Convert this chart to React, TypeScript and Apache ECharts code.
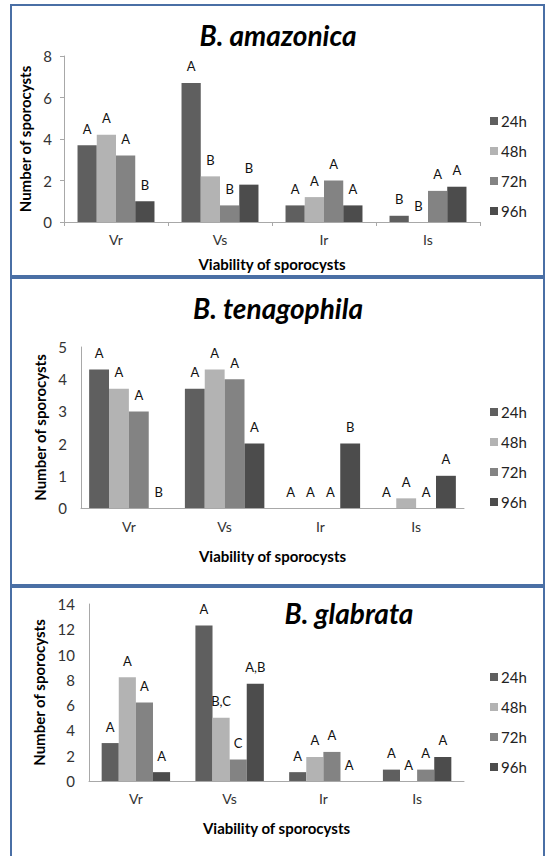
import React, { useEffect, useRef } from "react";
import * as echarts from "echarts";

const categories = ["Vr", "Vs", "Ir", "Is"];
const hours = ["24h", "48h", "72h", "96h"];
const colors = ["#5f5f5f", "#b3b3b3", "#838383", "#4c4c4c"];

const titles = ["B. amazonica", "B. tenagophila", "B. glabrata"];
const yAxisName = "Number of sporocysts";
const xAxisName = "Viability of sporocysts";

// B. amazonica
const amazonica24 = [3.7, 6.7, 0.8, 0.3];
const amazonica48 = [4.2, 2.2, 1.2, 0];
const amazonica72 = [3.2, 0.8, 2.0, 1.5];
const amazonica96 = [1.0, 1.8, 0.8, 1.7];
const amazonicaLetters24 = ["A", "A", "A", "B"];
const amazonicaLetters48 = ["A", "B", "A", "B"];
const amazonicaLetters72 = ["A", "B", "A", "A"];
const amazonicaLetters96 = ["B", "B", "A", "A"];

// B. tenagophila
const tenagophila24 = [4.3, 3.7, 0, 0];
const tenagophila48 = [3.7, 4.3, 0, 0.3];
const tenagophila72 = [3.0, 4.0, 0, 0];
const tenagophila96 = [0, 2.0, 2.0, 1.0];
const tenagophilaLetters24 = ["A", "A", "A", "A"];
const tenagophilaLetters48 = ["A", "A", "A", "A"];
const tenagophilaLetters72 = ["A", "A", "A", "A"];
const tenagophilaLetters96 = ["B", "A", "B", "A"];

// B. glabrata
const glabrata24 = [3.0, 12.3, 0.7, 0.9];
const glabrata48 = [8.2, 5.0, 1.9, 0];
const glabrata72 = [6.2, 1.7, 2.3, 0.9];
const glabrata96 = [0.7, 7.7, 0, 1.9];
const glabrataLetters24 = ["A", "A", "A", "A"];
const glabrataLetters48 = ["A", "B,C", "A", "A"];
const glabrataLetters72 = ["A", "C", "A", "A"];
const glabrataLetters96 = ["A", "A,B", "A", "A"];

const yMax = [8, 5, 14];
const yInterval = [2, 1, 2];

const FONT = "Lato, 'Open Sans', sans-serif";

export default function App() {
  const ref = useRef<HTMLDivElement>(null);

  useEffect(() => {
    if (!ref.current) return;
    const chart = echarts.init(ref.current, null, { renderer: "svg" });

    const panelValues = [
      [amazonica24, amazonica48, amazonica72, amazonica96],
      [tenagophila24, tenagophila48, tenagophila72, tenagophila96],
      [glabrata24, glabrata48, glabrata72, glabrata96],
    ];
    const panelLetters = [
      [amazonicaLetters24, amazonicaLetters48, amazonicaLetters72, amazonicaLetters96],
      [tenagophilaLetters24, tenagophilaLetters48, tenagophilaLetters72, tenagophilaLetters96],
      [glabrataLetters24, glabrataLetters48, glabrataLetters72, glabrataLetters96],
    ];

    const grids = [
      { left: 64, right: 70, top: 56, height: 166 },
      { left: 81, right: 86, top: 347, height: 161 },
      { left: 89, right: 86, top: 604, height: 177 },
    ];
    const gaps = ["26%", "17%", "27%"];
    const yNameGap = [30, 32, 41];
    const xNameGap = [34, 40, 39];
    const xLabelMargin = [10, 11, 10];
    const yLabelMargin = [12, 14, 14];
    const legendTops = [113, 404, 669];
    const titlePos = [
      [278, 35],
      [278, 308],
      [349, 613],
    ];

    const axisLineColor = "#a8a8a8";

    const xAxes = grids.map((_, i) => ({
      type: "category",
      gridIndex: i,
      data: categories,
      name: xAxisName,
      nameLocation: "middle",
      nameGap: xNameGap[i],
      nameTextStyle: { fontFamily: FONT, fontWeight: "bold", fontSize: 15, color: "#000" },
      axisLine: { show: true, lineStyle: { color: axisLineColor, width: 1 } },
      axisTick: { show: i === 0, length: 4, lineStyle: { color: axisLineColor } },
      axisLabel: { fontFamily: FONT, fontSize: 14, color: "#333", margin: xLabelMargin[i] },
      splitLine: { show: false },
    }));

    const yAxes = grids.map((_, i) => ({
      type: "value",
      gridIndex: i,
      min: 0,
      max: yMax[i],
      interval: yInterval[i],
      name: yAxisName,
      nameLocation: "middle",
      nameGap: yNameGap[i],
      nameTextStyle: { fontFamily: FONT, fontWeight: "bold", fontSize: 15, color: "#000" },
      axisLine: { show: true, lineStyle: { color: axisLineColor, width: 1 } },
      axisTick: { show: i === 0, length: 4, lineStyle: { color: axisLineColor } },
      axisLabel: { fontFamily: FONT, fontSize: 15, color: "#333", margin: yLabelMargin[i] },
      splitLine: { show: false },
    }));

    const series: any[] = [];
    panelValues.forEach((vals, p) => {
      vals.forEach((arr, h) => {
        const letters = panelLetters[p][h];
        series.push({
          type: "bar",
          name: hours[h],
          xAxisIndex: p,
          yAxisIndex: p,
          data: arr,
          barGap: "0%",
          barCategoryGap: gaps[p],
          itemStyle: { color: colors[h] },
          label: {
            show: true,
            position: "top",
            distance: 10,
            fontFamily: FONT,
            fontSize: 13,
            color: "#111",
            formatter: (prm: any) => letters[prm.dataIndex],
          },
        });
      });
    });

    const legends = legendTops.map((t) => ({
      data: hours,
      orient: "vertical",
      left: 490,
      top: t,
      padding: 0,
      itemWidth: 8,
      itemHeight: 8,
      itemGap: 14,
      icon: "rect",
      selectedMode: false,
      textStyle: { fontFamily: FONT, fontSize: 15, color: "#222", lineHeight: 16, padding: [0, 0, 0, -2] },
    }));

    const borderColor = "#4a6fa5";
    const graphic: any[] = [
      { type: "rect", shape: { x: 11, y: 5, width: 533, height: 271 }, style: { fill: "none", stroke: borderColor, lineWidth: 2 }, silent: true },
      { type: "rect", shape: { x: 11, y: 278, width: 533, height: 307 }, style: { fill: "none", stroke: borderColor, lineWidth: 2 }, silent: true },
      { type: "rect", shape: { x: 11, y: 587, width: 533, height: 290 }, style: { fill: "none", stroke: borderColor, lineWidth: 2 }, silent: true },
    ];
    titles.forEach((t, i) => {
      graphic.push({
        type: "text",
        x: titlePos[i][0],
        y: titlePos[i][1],
        silent: true,
        style: {
          text: t,
          fontFamily: FONT,
          fontWeight: "bold",
          fontStyle: "italic",
          fontSize: 28,
          fill: "#000",
          align: "center",
          verticalAlign: "middle",
        },
      });
    });

    chart.setOption({
      animation: false,
      backgroundColor: "#ffffff",
      grid: grids,
      xAxis: xAxes,
      yAxis: yAxes,
      legend: legends,
      series,
      graphic,
    });

    return () => chart.dispose();
  }, []);

  return (
    <div
      ref={ref}
      style={{ position: "absolute", left: 0, top: 0, width: 550, height: 856 }}
    />
  );
}
